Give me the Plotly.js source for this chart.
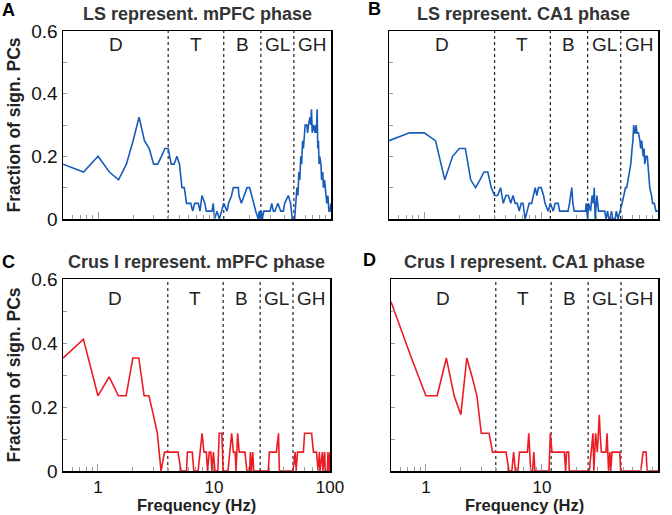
<!DOCTYPE html>
<html>
<head>
<meta charset="utf-8">
<script src="https://cdn.plot.ly/plotly-3.0.1.min.js"></script>
<style>html,body{margin:0;padding:0;background:#fff}#chart{width:672px;height:515px}</style>
</head>
<body>
<div id="chart"></div>
<script>
// ---- data ----
const panelTitles = ["LS represent. mPFC phase", "LS represent. CA1 phase", "Crus I represent. mPFC phase", "Crus I represent. CA1 phase"];
const panelLetters = ["A", "B", "C", "D"];
const bandEdges = [4, 12, 25, 48];
const bandLabels = ["D", "T", "B", "GL", "GH"];
const xTickVals = [1, 10, 100];
const xTickText = ["1", "10", "100"];
const yTickVals = [0, 0.2, 0.4, 0.6];
const yTickText = ["0", "0.2", "0.4", "0.6"];

const freqA = [0.5,0.75,1,1.25,1.5,1.75,2,2.25,2.5,2.75,3,3.25,3.5,3.75,4,4.25,4.5,4.75,5,5.25,5.5,5.75,6,6.25,6.5,6.75,7,7.25,7.5,7.8,8.25,8.5,9.5,9.75,10,10.5,11,11.5,12,12.8,13.2,14,14.5,16,16.2,17,17.9,19,20,21.5,22.6,23.7,24.2,24.7,25.2,25.7,26.5,27.5,28.5,30,31,32,33,35,37,39,40,43,45,46.5,48.7,50,51,52,53,54,55,56,57,58,59,60,62,63,64,66,67,68,69,71,73,74,75,76,77,78,79,80,82,83,85,86,88,90,92,94,96,98,100];
const valA = [0.175,0.15,0.2,0.15,0.125,0.175,0.25,0.325,0.25,0.225,0.175,0.175,0.2,0.225,0.225,0.175,0.175,0.2,0.175,0.1,0.1,0.05,0.05,0.05,0.025,0.05,0.05,0.05,0.025,0.075,0.05,0.025,0.025,0.05,0,0.025,0,0.025,0.05,0.025,0.05,0.075,0.1,0.1,0.075,0.05,0.075,0.1,0.1,0.05,0.025,0,0.025,0,0.025,0,0.025,0.025,0.025,0.025,0.05,0.025,0.025,0.05,0.025,0.025,0.05,0.075,0.05,0,0,0.05,0.1,0.075,0.15,0.125,0.2,0.175,0.25,0.225,0.275,0.3,0.3,0.275,0.3,0.325,0.3,0.35,0.275,0.3,0.275,0.3,0.275,0.35,0.225,0.25,0.175,0.2,0.175,0.125,0.15,0.1,0.125,0.075,0.05,0.075,0.025,0.025,0.05];

const freqB = [0.5,0.75,1,1.25,1.5,1.75,2,2.25,2.5,2.75,3,3.25,3.5,3.75,4,4.25,4.5,4.75,5,5.25,5.5,5.75,6,6.25,6.5,6.75,7,7.3,7.6,7.9,8.3,8.6,8.9,9.2,9.5,10,10.5,10.8,11.5,12,12.7,13.2,14,14.4,17,17.5,18,18.3,18.7,19.2,24,24.3,25,25.5,26.5,27.3,28,28.5,29,30,31,32,35,36,37,38,39,40,41,43,44,45.5,47.6,49.3,51,52.7,54,55.6,57,58.5,60,61,62,63,64,65,66,68,70,71,72.6,74.6,76,77,79,81,83,85,88,90,93,96,100];
const valB = [0.25,0.275,0.275,0.25,0.125,0.2,0.225,0.225,0.125,0.1,0.125,0.15,0.15,0.1,0.075,0.075,0.1,0.05,0.075,0.075,0.05,0.075,0.05,0.05,0.025,0.05,0.05,0,0.025,0.05,0.05,0.075,0.1,0.075,0.1,0.1,0.075,0.05,0.025,0.05,0.025,0.05,0.05,0.025,0.025,0.05,0.075,0.1,0.05,0.025,0.025,0.05,0,0.05,0.025,0.075,0.05,0.1,0,0.075,0.025,0.025,0.025,0,0.025,0,0,0.025,0,0,0.025,0,0.025,0.05,0.075,0.1,0.1,0.125,0.15,0.175,0.225,0.25,0.3,0.275,0.275,0.3,0.275,0.275,0.25,0.225,0.25,0.2,0.225,0.175,0.2,0.2,0.15,0.1,0.075,0.05,0.05,0.025,0.025];

const freqC = [0.5,0.75,1,1.25,1.5,1.75,2,2.25,2.5,2.75,3,3.25,3.5,3.75,4.9,5.2,5.8,5.9,6.5,6.7,7.3,7.6,7.9,8.2,8.6,8.8,9.1,9.4,9.6,9.9,10.2,10.8,11.1,11.7,12,13.2,13.7,14.2,14.7,15.2,15.5,16,16.5,18.5,19.2,20.3,20.6,21,21.6,22,29.4,30,34.5,36,36.6,48,50,51,52.5,59,60.4,69.4,72,76.5,79,81,82,86,87,90,91,95,96,98,100];
const valC = [0.353,0.412,0.235,0.294,0.235,0.235,0.353,0.353,0.235,0.235,0.176,0.118,0,0.059,0.059,0,0,0.059,0.059,0,0,0.059,0.118,0.059,0.059,0,0.059,0.059,0,0.059,0,0,0.118,0.118,0,0,0.059,0.118,0.059,0.059,0,0.118,0.059,0.059,0,0,0.059,0,0.059,0,0,0.059,0.059,0.118,0,0,0.059,0,0.059,0.059,0.118,0.118,0.059,0.059,0,0.059,0,0.059,0,0.059,0,0,0.059,0,0.059];

const freqD = [0.5,0.75,1,1.25,1.5,1.75,2,2.25,2.5,2.75,3,3.25,3.5,3.75,4.9,5.2,5.5,5.7,5.9,6.2,6.4,7.5,7.7,8,8.3,8.5,8.7,11.5,11.8,12.2,15.6,16,16.3,17,17.2,25.6,26.6,27.5,28,29,30,31.2,31.7,32.5,35.6,36.4,37.5,38.5,39.2,40.1,46.8,47.7,71,74.4,79,80.5,100];
const valD = [0.529,0.353,0.235,0.235,0.353,0.235,0.176,0.353,0.294,0.235,0.118,0.118,0.118,0.059,0.059,0,0,0.059,0,0,0.059,0.059,0.118,0,0,0.059,0,0,0.118,0.059,0.059,0,0.059,0.059,0,0,0.059,0.118,0,0.118,0.059,0.176,0.118,0.059,0.059,0.118,0,0.059,0,0.059,0.059,0,0,0.059,0.059,0,0];

const seriesFreq = [freqA, freqB, freqC, freqD];
const seriesVal = [valA, valB, valC, valD];
const seriesColor = ["rgb(24,92,186)", "rgb(24,92,186)", "rgb(237,28,36)", "rgb(237,28,36)"];

// ---- layout geometry ----
const W = 672, H = 515;
const FONT = "Liberation Sans, Arial, sans-serif";
const xDom = [[63/W, 331/W], [389/W, 658/W], [63/W, 330/W], [391/W, 658/W]];
const yDom = [[1-219/H, 1-31/H], [1-219/H, 1-31/H], [1-471/H, 1-279/H], [1-471/H, 1-279/H]];
const xMin = 0.5, xMax = 100;

const traces = [];
const layout = {
  width: W, height: H,
  margin: {l: 0, r: 0, t: 0, b: 0},
  paper_bgcolor: "#fff", plot_bgcolor: "#fff",
  showlegend: false,
  font: {family: FONT, color: "#000", size: 15},
  annotations: [],
};

for (let i = 0; i < 4; i++) {
  const n = i === 0 ? "" : String(i + 1);
  const xa = "x" + n, ya = "y" + n;
  bandEdges.forEach(e => {
    traces.push({x: [e, e], y: [0, 0.6], xaxis: xa, yaxis: ya, mode: "lines",
      line: {color: "#222", width: 1.2, dash: "dot"}, hoverinfo: "skip"});
  });
  traces.push({x: seriesFreq[i], y: seriesVal[i], xaxis: xa, yaxis: ya, mode: "lines",
    line: {color: seriesColor[i], width: 1.6}});
  const bottom = i >= 2, left = i % 2 === 0;
  layout["xaxis" + n] = {
    domain: xDom[i], anchor: ya, type: "log",
    range: [Math.log10(xMin), Math.log10(xMax)],
    showline: true, mirror: true, linecolor: "#000", linewidth: 1.5,
    showgrid: false, zeroline: false,
    ticks: "inside", ticklen: 7, tickcolor: "#999", tickwidth: 1,
    tickvals: xTickVals, ticktext: xTickText,
    minor: {ticks: "inside", ticklen: 4, tickcolor: "#999", dtick: "D1", showgrid: false},
    showticklabels: bottom,
    tickfont: {size: 17, family: FONT, color: "#111"},
    title: {text: ""},
  };
  layout["yaxis" + n] = {
    domain: yDom[i], anchor: xa, range: [0, 0.6],
    showline: true, mirror: true, linecolor: "#000", linewidth: 1.5,
    showgrid: false, zeroline: false,
    ticks: "inside", ticklen: 4, tickcolor: "#999",
    tickvals: yTickVals, ticktext: yTickText,
    minor: {ticks: "inside", ticklen: 4, tickcolor: "#999", dtick: 0.1, showgrid: false},
    showticklabels: left,
    tickfont: {size: 19, family: FONT, color: "#111"},
    title: left ? {text: "<b>Fraction of sign. PCs</b>", font: {size: 17.5, family: FONT, color: "#222"}, standoff: 6} : {text: ""},
  };
  if (bottom) {
    layout.annotations.push({text: "<b>Frequency (Hz)</b>", xref: xa + " domain", yref: "paper",
      x: 0.5, y: 0, yanchor: "bottom", yshift: 0, xanchor: "center", showarrow: false, borderpad: 0,
      font: {size: 16.5, family: FONT, color: "#222"}});
  }
  layout.annotations.push({text: "<b>" + panelTitles[i] + "</b>", xref: xa + " domain", yref: ya + " domain",
    x: 0.5, y: 1, xanchor: "center", yanchor: "bottom", yshift: 5, showarrow: false,
    font: {size: 18, family: FONT, color: "#333"}});
  const letterX = [8, 374, 8, 369][i], letterY = [10, 9, 262, 260][i];
  layout.annotations.push({text: "<b>" + panelLetters[i] + "</b>", xref: "paper", yref: "paper",
    x: letterX / W, y: 1 - letterY / H, xanchor: "center", yanchor: "middle", showarrow: false,
    font: {size: 18, family: FONT, color: "#000"}});
  const edges = [xMin].concat(bandEdges, [xMax]);
  const lmin = Math.log10(xMin), lmax = Math.log10(xMax);
  bandLabels.forEach((lab, k) => {
    const c = (Math.log10(edges[k]) + Math.log10(edges[k + 1])) / 2;
    layout.annotations.push({text: lab, xref: xa + " domain", yref: ya + " domain",
      x: (c - lmin) / (lmax - lmin), y: 1, yshift: bottom ? -19 : -14, xanchor: "center", yanchor: "middle",
      showarrow: false, font: {size: 19, family: FONT, color: "#222"}});
  });
}

Plotly.newPlot("chart", traces, layout, {displayModeBar: false, staticPlot: true});
</script>
</body>
</html>
